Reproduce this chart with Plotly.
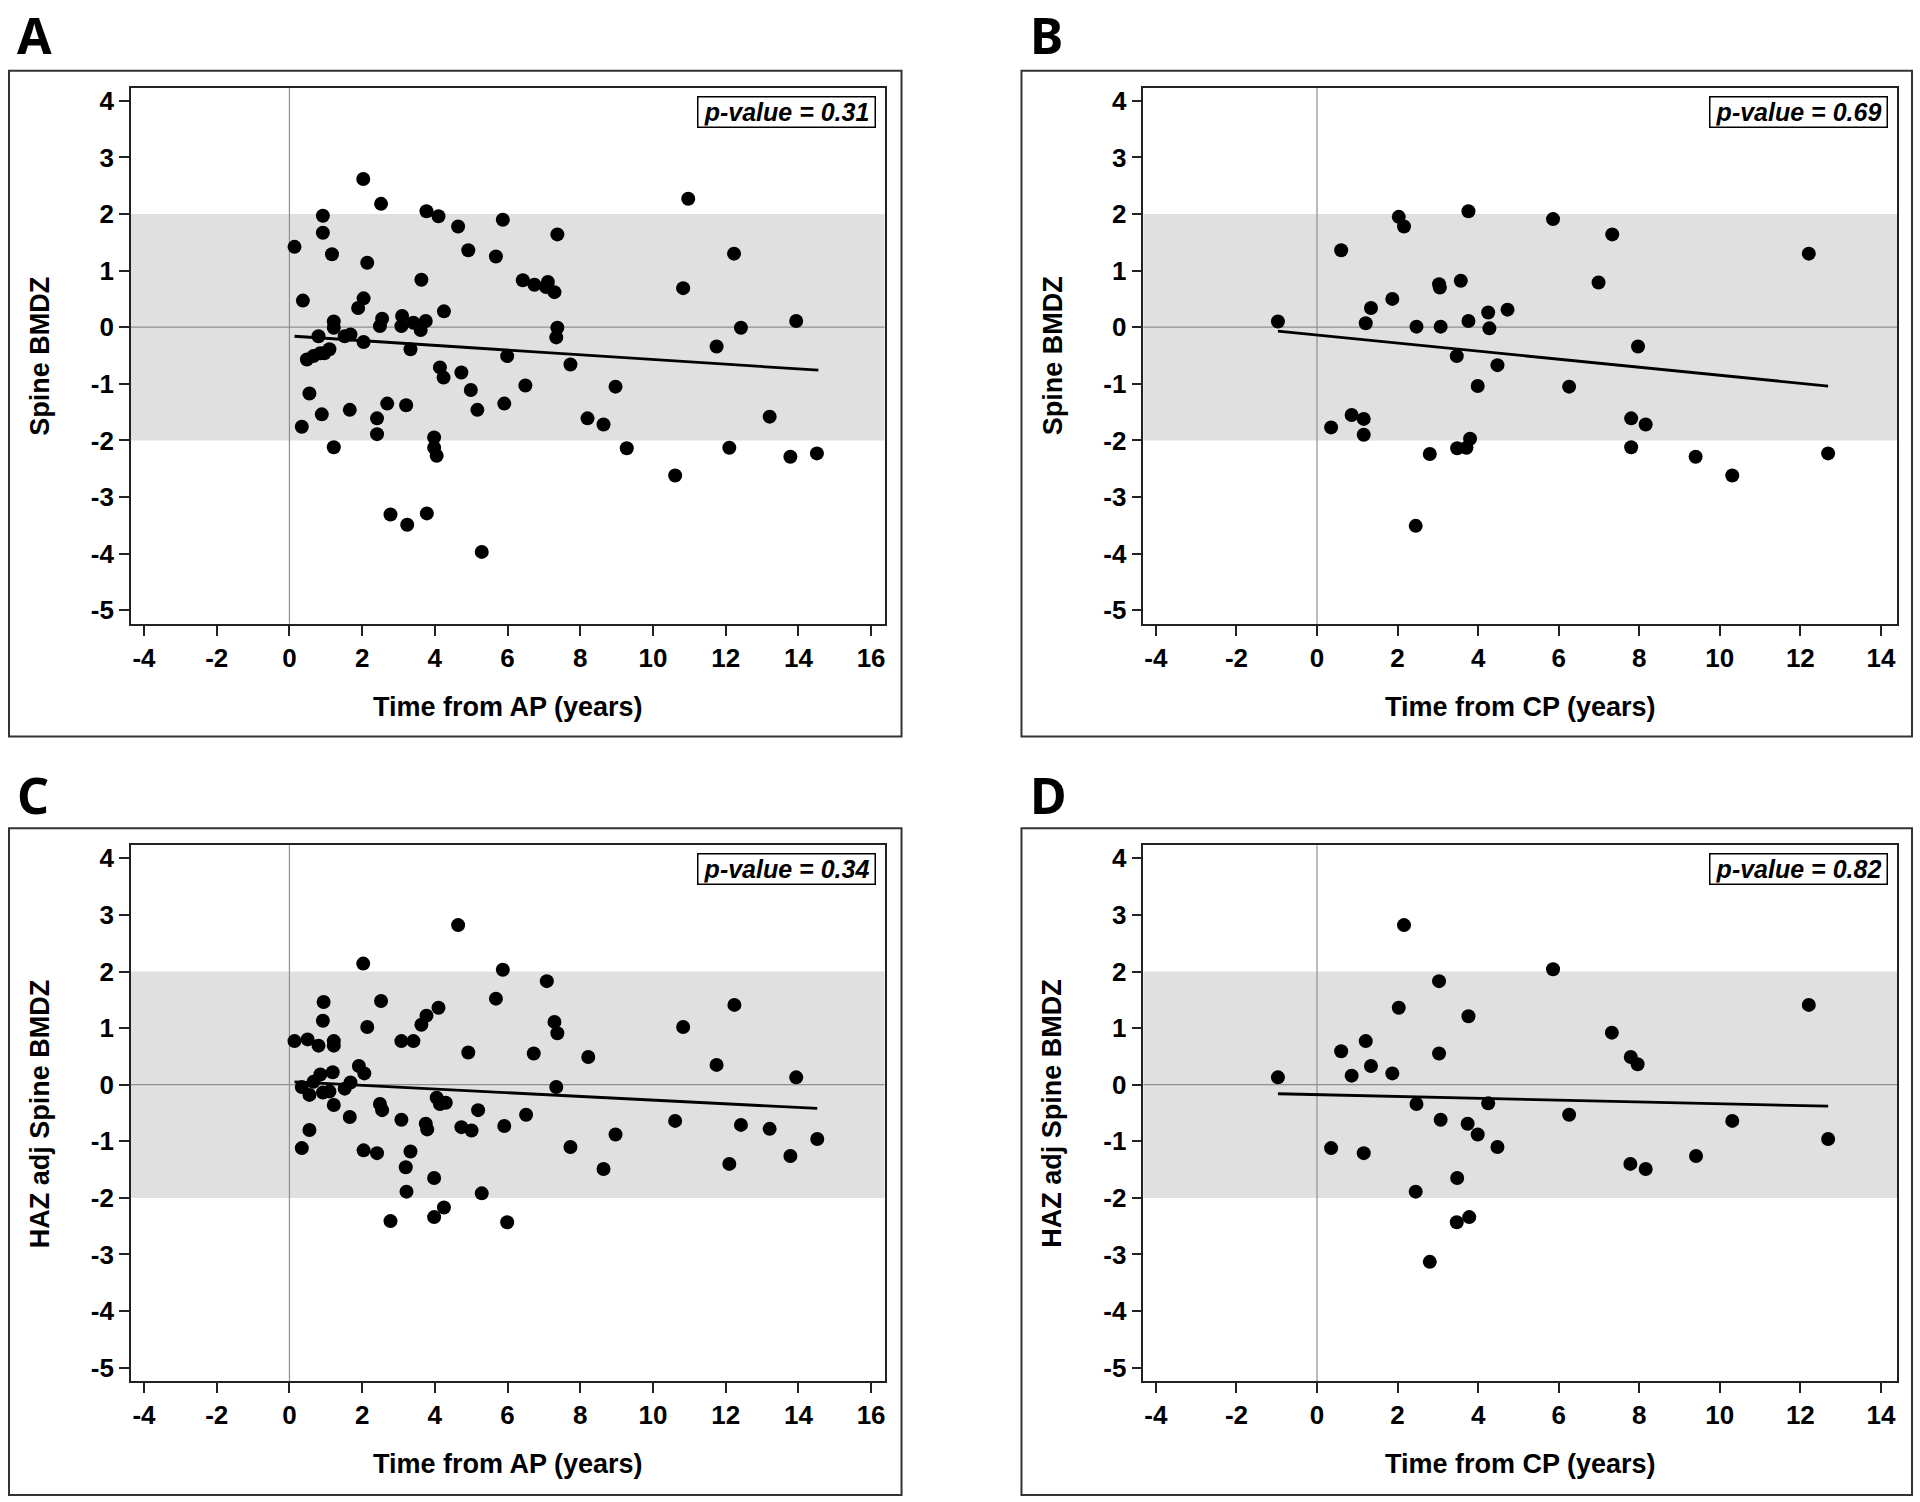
import plotly.graph_objects as go

W, H = 1920, 1502

# ---------------- data ----------------
A_x = [0.14, 0.37, 0.34, 0.48, 0.55, 0.66, 0.80, 0.85, 0.89, 0.92,
       0.92, 0.96, 1.10, 1.17, 1.22, 1.22, 1.22, 1.52, 1.68, 1.66,
       1.89, 2.04, 2.04, 2.03, 2.14, 2.41, 2.41, 2.49, 2.55, 2.52,
       2.69, 2.78, 3.10, 3.08, 3.21, 3.24, 3.33, 3.41, 3.61, 3.63,
       3.75, 3.77, 3.78, 3.98, 3.98, 4.05, 4.10, 4.14, 4.24, 4.25,
       4.64, 4.73, 4.92, 4.99, 5.17, 5.29, 5.68, 5.87, 5.91, 5.99,
       6.42, 6.49, 6.74, 7.11, 7.06, 7.29, 7.37, 7.37, 7.34, 7.73,
       8.20, 8.64, 8.97, 9.28, 10.61, 10.83, 10.97, 11.75, 12.10, 12.23,
       12.42, 13.21, 13.78, 13.94, 14.51]
A_y = [1.42, 0.47, -1.76, -0.57, -1.17, -0.51, -0.16, -0.46, -1.54, 1.97,
       1.67, -0.46, -0.39, 1.29, 0.10, -0.01, -2.12, -0.16, -0.13, -1.46,
       0.34, 0.51, -0.26, 2.62, 1.14, -1.61, -1.89, 0.02, 0.15, 2.18,
       -1.35, -3.31, 0.20, 0.02, -1.38, -3.49, -0.39, 0.08, -0.05, 0.84,
       0.11, 2.05, -3.29, -1.95, -2.13, -2.27, 1.96, -0.71, -0.89, 0.28,
       1.78, -0.80, 1.36, -1.11, -1.46, -3.97, 1.25, 1.90, -1.35, -0.51,
       0.83, -1.03, 0.75, 0.80, 0.71, 0.62, 1.64, -0.01, -0.18, -0.66,
       -1.61, -1.72, -1.05, -2.14, -2.62, 0.69, 2.27, -0.34, -2.13, 1.30,
       -0.01, -1.58, -2.29, 0.11, -2.23]

B_x = [-0.97, 0.35, 0.60, 0.86, 1.16, 1.16, 1.21, 1.34, 1.87, 2.03,
       2.16, 2.47, 2.45, 2.80, 3.03, 3.05, 3.07, 3.47, 3.48, 3.57,
       3.71, 3.76, 3.76, 3.80, 3.99, 4.25, 4.28, 4.48, 4.73, 5.86,
       6.26, 6.99, 7.33, 7.80, 7.80, 7.97, 8.16, 9.40, 10.31, 12.21,
       12.69]
B_y = [0.10, -1.77, 1.36, -1.55, -1.62, -1.90, 0.07, 0.34, 0.50, 1.95,
       1.78, 0.01, -3.51, -2.24, 0.76, 0.70, 0.01, -0.51, -2.14, 0.82,
       -2.13, 0.11, 2.05, -1.97, -1.04, 0.26, -0.02, -0.67, 0.31, 1.91,
       -1.05, 0.79, 1.64, -1.61, -2.12, -0.34, -1.72, -2.29, -2.62, 1.30,
       -2.23]

C_x = [0.14, 0.50, 0.34, 0.34, 0.55, 0.55, 0.66, 0.80, 0.85, 0.92,
       0.92, 0.94, 1.10, 1.19, 1.22, 1.22, 1.22, 1.52, 1.68, 1.66,
       1.91, 2.06, 2.03, 2.04, 2.14, 2.41, 2.49, 2.55, 2.52, 2.78,
       3.08, 3.08, 3.20, 3.22, 3.33, 3.41, 3.63, 3.77, 3.75, 3.79,
       3.98, 3.98, 4.05, 4.10, 4.14, 4.25, 4.30, 4.64, 4.73, 4.92,
       5.01, 5.19, 5.29, 5.68, 5.87, 5.91, 5.99, 6.51, 6.72, 7.08,
       7.29, 7.37, 7.34, 7.73, 8.22, 8.64, 8.97, 10.61, 10.83, 11.75,
       12.10, 12.24, 12.42, 13.21, 13.78, 13.94, 14.52]
C_y = [0.77, 0.80, -0.04, -1.12, -0.18, -0.80, 0.05, 0.69, 0.18, -0.14,
       1.13, 1.46, -0.12, 0.22, 0.77, 0.69, -0.36, -0.07, 0.04, -0.57,
       0.33, 0.20, 2.14, -1.16, 1.02, -1.21, -0.34, -0.45, 1.48, -2.41,
       0.77, -0.62, -1.46, -1.89, -1.18, 0.77, 1.06, 1.22, -0.69, -0.79,
       -1.65, -2.34, -0.23, 1.36, -0.34, -2.17, -0.32, 2.82, -0.75, 0.57,
       -0.81, -0.45, -1.92, 1.52, 2.03, -0.73, -2.43, -0.53, 0.55, 1.83,
       1.11, 0.91, -0.04, -1.10, 0.49, -1.49, -0.88, -0.64, 1.02, 0.35,
       -1.40, 1.41, -0.71, -0.78, -1.26, 0.13, -0.96]

D_x = [-0.97, 0.35, 0.60, 0.86, 1.16, 1.21, 1.34, 1.87, 2.03, 2.16,
       2.47, 2.45, 2.80, 3.03, 3.03, 3.07, 3.48, 3.47, 3.74, 3.76,
       3.78, 3.99, 4.25, 4.48, 5.86, 6.26, 7.32, 7.79, 7.96, 7.78,
       8.16, 9.41, 10.31, 12.21, 12.69]
D_y = [0.13, -1.12, 0.59, 0.16, -1.21, 0.77, 0.33, 0.20, 1.36, 2.82,
       -0.34, -1.89, -3.13, 1.83, 0.55, -0.62, -1.65, -2.43, -0.69, 1.21,
       -2.34, -0.88, -0.33, -1.10, 2.04, -0.53, 0.92, 0.49, 0.36, -1.40,
       -1.49, -1.26, -0.64, 1.41, -0.96]

# fitted regression lines (end points)
A_fit_x = [0.14, 14.55]
A_fit_y = [-0.16, -0.76]
B_fit_x = [-0.97, 12.69]
B_fit_y = [-0.07, -1.04]
C_fit_x = [0.14, 14.52]
C_fit_y = [0.05, -0.42]
D_fit_x = [-0.97, 12.69]
D_fit_y = [-0.16, -0.38]

p_values = ["0.31", "0.69", "0.34", "0.82"]
panel_letters = ["A", "B", "C", "D"]
y_titles = ["Spine BMDZ", "Spine BMDZ", "HAZ adj Spine BMDZ", "HAZ adj Spine BMDZ"]
x_titles = ["Time from AP (years)", "Time from CP (years)",
            "Time from AP (years)", "Time from CP (years)"]
x_ticks_AP = [-4, -2, 0, 2, 4, 6, 8, 10, 12, 14, 16]
x_ticks_CP = [-4, -2, 0, 2, 4, 6, 8, 10, 12, 14]
y_ticks = [-5, -4, -3, -2, -1, 0, 1, 2, 3, 4]
ref_band = [-2, 2]

# ---------------- layout geometry (pixels) ----------------
FONT = "Liberation Sans, Arial, sans-serif"


def px_x(p):
    return p / W


def px_y(p):
    return 1 - p / H


panels = [
    dict(frame=(131, 885, 86, 623), box=(9, 902, 69, 736), letter=(35, 33),
         xr=[-4.36, 16.37], xt=x_ticks_AP, data=(A_x, A_y), fit=(A_fit_x, A_fit_y)),
    dict(frame=(1144, 1898, 86, 623), box=(1022, 1913, 69, 736), letter=(1047, 33),
         xr=[-4.31, 14.40], xt=x_ticks_CP, data=(B_x, B_y), fit=(B_fit_x, B_fit_y)),
    dict(frame=(131, 885, 845, 1382), box=(9, 902, 828, 1496), letter=(33, 795),
         xr=[-4.36, 16.37], xt=x_ticks_AP, data=(C_x, C_y), fit=(C_fit_x, C_fit_y)),
    dict(frame=(1144, 1898, 845, 1382), box=(1022, 1913, 828, 1496), letter=(1049, 795),
         xr=[-4.31, 14.40], xt=x_ticks_CP, data=(D_x, D_y), fit=(D_fit_x, D_fit_y)),
]

fig = go.Figure()
shapes = []
annotations = []
layout_axes = {}
tickfont = dict(family=FONT, size=26, color="black")

for i, p in enumerate(panels):
    n = "" if i == 0 else str(i + 1)
    xa, ya = "x" + n, "y" + n
    l, r, t, b = p["frame"]

    layout_axes["xaxis" + n] = dict(
        domain=[px_x(l), px_x(r)], range=p["xr"], anchor=ya,
        tickvals=p["xt"], ticktext=["<b>%d</b>" % v for v in p["xt"]],
        ticks="outside", ticklen=10, tickwidth=1.5, tickcolor="#222",
        showline=True, mirror=True, linecolor="#222", linewidth=1.5,
        showgrid=False, zeroline=False, tickfont=tickfont,
    )
    layout_axes["yaxis" + n] = dict(
        domain=[px_y(b), px_y(t)], range=[-5.24, 4.23], anchor=xa,
        tickvals=y_ticks, ticktext=["<b>%d</b>" % v for v in y_ticks],
        ticks="outside", ticklen=10, tickwidth=1.5, tickcolor="#222",
        showline=True, mirror=True, linecolor="#222", linewidth=1.5,
        showgrid=False, zeroline=False, tickfont=tickfont,
    )

    # reference band and zero lines
    shapes.append(dict(type="rect", xref=xa + " domain", yref=ya,
                       x0=0, x1=1, y0=ref_band[0], y1=ref_band[1],
                       fillcolor="#e0e0e0", line=dict(width=0), layer="below"))
    shapes.append(dict(type="line", xref=xa + " domain", yref=ya,
                       x0=0, x1=1, y0=0, y1=0,
                       line=dict(color="#909090", width=1.2), layer="below"))
    shapes.append(dict(type="line", xref=xa, yref=ya + " domain",
                       x0=0, x1=0, y0=0, y1=1,
                       line=dict(color="#909090", width=1.2), layer="below"))

    # outer panel box
    bl, br, bt, bb = p["box"]
    shapes.append(dict(type="rect", xref="paper", yref="paper",
                       x0=px_x(bl), x1=px_x(br), y0=px_y(bb), y1=px_y(bt),
                       line=dict(color="#333", width=2), fillcolor="rgba(0,0,0,0)"))

    # data
    dx, dy = p["data"]
    fig.add_trace(go.Scatter(x=dx, y=dy, mode="markers", xaxis=xa, yaxis=ya,
                             marker=dict(color="black", size=14, line=dict(width=0)),
                             showlegend=False))
    fx, fy = p["fit"]
    fig.add_trace(go.Scatter(x=fx, y=fy, mode="lines", xaxis=xa, yaxis=ya,
                             line=dict(color="black", width=2.8),
                             showlegend=False))

    # p-value box
    annotations.append(dict(
        xref="paper", yref="paper", x=px_x(r - 9), y=px_y(t + 8),
        xanchor="right", yanchor="top", showarrow=False,
        text="<b><i>p-value = " + p_values[i] + "</i></b>",
        font=dict(family=FONT, size=25, color="black"),
        bordercolor="black", borderwidth=1.5, borderpad=1,
        bgcolor="white", width=174, height=27, align="center"))

    # axis titles
    annotations.append(dict(
        xref="paper", yref="paper", x=px_x((l + r) / 2), y=px_y(b + 83),
        xanchor="center", yanchor="middle", showarrow=False,
        text="<b>" + x_titles[i] + "</b>",
        font=dict(family=FONT, size=27, color="black")))
    annotations.append(dict(
        xref="paper", yref="paper", x=px_x(bl + 31), y=px_y((t + b) / 2),
        xanchor="center", yanchor="middle", showarrow=False, textangle=-90,
        text="<b>" + y_titles[i] + "</b>",
        font=dict(family=FONT, size=27, color="black")))

    # panel letter
    lx, ly = p["letter"]
    annotations.append(dict(
        xref="paper", yref="paper", x=px_x(lx), y=px_y(ly),
        xanchor="center", yanchor="middle", showarrow=False,
        text="<b>" + panel_letters[i] + "</b>",
        font=dict(family="Noto Sans, Liberation Sans, sans-serif", size=50, color="black")))

fig.update_layout(
    width=W, height=H,
    margin=dict(l=0, r=0, t=0, b=0),
    paper_bgcolor="white", plot_bgcolor="white",
    shapes=shapes, annotations=annotations,
    **layout_axes,
)

fig.write_html("out.html",
               config={"displayModeBar": False},
               post_script="document.body.style.margin='0';"
                           "document.body.style.overflow='hidden';")
